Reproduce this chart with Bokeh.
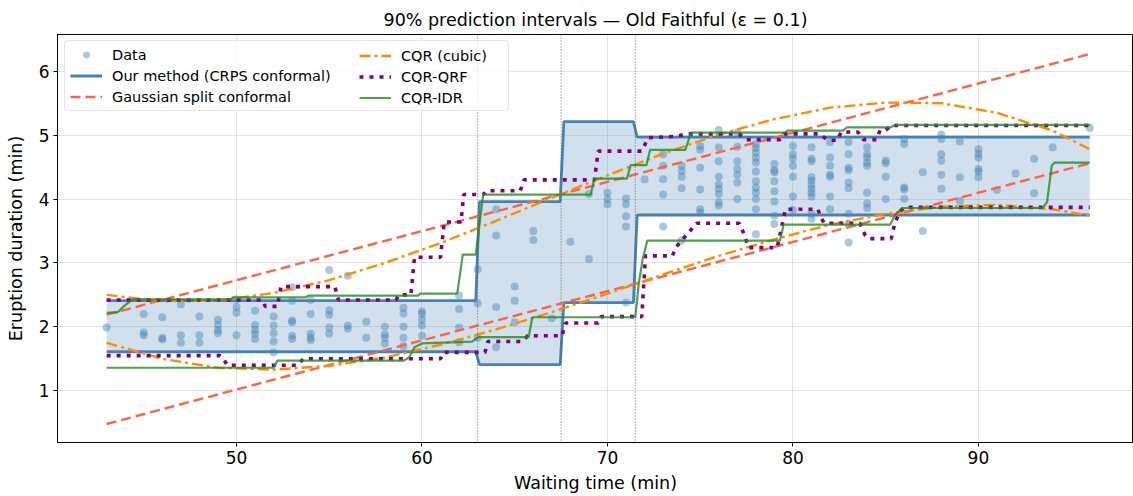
from bokeh.plotting import figure
from bokeh.models import Range1d, FixedTicker, Span, Legend, LegendItem
from bokeh.embed import file_html
from bokeh.resources import INLINE

# ---- Data ----
waiting = [43,
           45, 45, 45, 46, 46, 46, 47, 47, 47, 48, 48, 48,
           49, 49, 49, 49, 50, 50, 50, 50, 51, 51, 51, 51, 51,
           52, 52, 52, 52, 52, 53, 53, 53, 53, 53, 53, 54, 54, 54, 54, 54,
           55, 55, 55, 55, 55, 56, 56, 56, 57, 57, 58, 58, 58, 58,
           59, 59, 59, 59, 59, 60, 60, 60, 60, 60, 62, 62, 62, 62,
           63, 63, 63, 64, 64, 64, 64, 65, 65, 65, 66, 66, 67, 68, 69, 69,
           70, 70, 70, 71, 71, 71, 71, 71, 72, 73, 73, 73, 73, 73,
           74, 74, 74, 74, 74, 75, 75, 75, 75, 75, 75,
           76, 76, 76, 76, 76, 76, 76, 76, 76,
           77, 77, 77, 77, 77, 77, 77,
           78, 78, 78, 78, 78, 78, 78, 78, 78, 78, 78, 78,
           79, 79, 79, 79, 79, 79, 79, 79,
           80, 80, 80, 80, 80, 80, 80,
           81, 81, 81, 81, 81, 81, 81, 81, 81, 81, 81,
           82, 82, 82, 82, 82, 82, 82,
           83, 83, 83, 83, 83, 83, 83, 83, 83,
           84, 84, 84, 84, 84, 84, 84, 84,
           85, 85, 85, 85, 86, 86, 86, 86, 86, 87, 87,
           88, 88, 88, 88, 88, 88, 89, 89, 89,
           90, 90, 90, 90, 90, 90, 91, 92, 93, 93, 94, 96]
eruptions = [1.99,
             2.20, 1.91, 1.87, 2.15, 1.83, 1.80, 2.35, 1.87, 1.75, 2.16, 1.87, 1.75,
             2.11, 2.03, 1.95, 1.90, 2.43, 2.31, 2.22, 1.87, 2.25, 2.03, 1.95, 1.89, 1.81,
             2.16, 2.02, 1.90, 1.77, 1.60, 2.62, 2.41, 2.10, 2.07, 1.86, 1.81, 2.42, 2.20, 1.89, 1.83, 1.79,
             2.89, 2.26, 2.19, 1.99, 1.89, 2.80, 2.02, 1.97, 2.08, 1.83, 2.00, 1.88, 1.83, 1.74,
             2.30, 2.21, 2.00, 1.83, 1.70, 2.24, 2.20, 2.11, 2.02, 1.86, 2.49, 2.28, 1.99, 1.76,
             2.90, 2.37, 1.83, 3.84, 3.43, 2.31, 1.68, 2.63, 2.41, 2.07, 3.50, 3.36, 2.13, 3.33, 4.08, 3.06,
             4.10, 4.00, 3.92, 4.01, 3.92, 3.73, 3.57, 2.38, 4.31, 4.70, 4.52, 4.31, 4.07, 3.57,
             4.52, 4.44, 4.35, 4.17, 3.35, 4.83, 4.77, 4.49, 4.15, 3.84, 3.79,
             5.08, 4.81, 4.59, 4.35, 4.23, 4.16, 4.08, 3.95, 3.90,
             5.04, 4.82, 4.59, 4.47, 4.38, 4.26, 4.00,
             4.86, 4.80, 4.73, 4.65, 4.57, 4.43, 4.28, 4.18, 4.10, 4.00, 3.84, 3.45,
             4.55, 4.45, 4.42, 4.28, 4.12, 3.96, 3.74, 3.61,
             4.83, 4.70, 4.63, 4.52, 4.35, 4.04, 3.83,
             4.81, 4.63, 4.59, 4.34, 4.29, 4.22, 4.16, 4.10, 4.04, 3.77, 3.69,
             4.89, 4.65, 4.52, 4.38, 4.35, 4.04, 3.84,
             4.89, 4.70, 4.49, 4.45, 4.26, 4.17, 3.77, 3.61, 3.32,
             4.81, 4.70, 4.65, 4.57, 4.52, 4.10, 3.93, 3.86,
             4.60, 4.56, 4.35, 4.00, 4.94, 4.86, 4.18, 4.15, 4.00, 4.42, 3.50,
             5.01, 4.94, 4.70, 4.60, 4.38, 4.16, 4.90, 4.34, 3.97,
             4.78, 4.71, 4.65, 4.47, 4.43, 4.34, 4.14, 4.40, 4.63, 4.09, 4.81, 5.11]

boundaries = [63.0, 67.5, 71.5]

crps_x = [43, 62.9, 63.1, 67.45, 67.65, 71.4, 71.6, 96]
crps_lower = [1.61, 1.61, 1.41, 1.41, 2.38, 2.38, 3.75, 3.75]
crps_upper = [2.41, 2.41, 3.96, 3.96, 5.21, 5.21, 4.97, 4.97]

gauss_x = [43, 96]
gauss_lower = [0.48, 4.56]
gauss_upper = [2.19, 6.27]

cubic_x = [43, 46, 49, 52, 55, 58, 61, 64, 67, 70, 73, 76, 79, 82, 85, 88, 91, 94, 96]
cubic_upper = [2.50, 2.40, 2.41, 2.53, 2.73, 3.00, 3.31, 3.66, 4.02, 4.37, 4.71, 5.01,
               5.25, 5.43, 5.51, 5.50, 5.35, 5.07, 4.78]
cubic_lower = [1.75, 1.50, 1.36, 1.33, 1.39, 1.52, 1.72, 1.96, 2.23, 2.52, 2.82, 3.11,
               3.37, 3.60, 3.77, 3.88, 3.91, 3.84, 3.74]

qrf_upper_x = [43, 51.4, 51.55, 52.2, 52.4, 55.3, 55.5, 58.6, 58.75, 59.4, 59.6, 61.0,
               61.2, 62.1, 62.25, 63.3, 63.5, 65.3, 65.5, 69.3, 69.5, 71.85, 72.2, 73.7,
               74.3, 77.1, 77.5, 79.3, 79.5, 81.4, 81.9, 82.4, 82.6, 83.5, 83.8, 84.5,
               84.7, 85.0, 85.3, 96]
qrf_upper_y = [2.42, 2.42, 2.32, 2.32, 2.63, 2.63, 2.42, 2.42, 2.50, 2.50, 3.09, 3.09,
               3.64, 3.64, 4.07, 4.07, 4.13, 4.13, 4.30, 4.30, 4.75, 4.75, 4.96, 4.98,
               5.02, 5.02, 4.93, 4.93, 5.02, 5.02, 4.92, 4.92, 5.05, 5.05, 4.93, 4.93,
               5.08, 5.08, 5.15, 5.15]
qrf_lower_x = [43, 49.1, 49.3, 49.5, 53.3, 53.6, 61.0, 61.15, 63.4, 63.55, 65.4, 65.7,
               67.55, 67.75, 69.5, 69.65, 71.85, 72.05, 73.5, 73.7, 74.3, 74.8, 77.1,
               77.4, 77.6, 79.15, 79.5, 79.6, 81.35, 81.5, 81.7, 83.6, 83.9, 84.1, 85.3,
               85.5, 85.8, 86.0, 96]
qrf_lower_y = [1.55, 1.55, 1.50, 1.40, 1.40, 1.50, 1.50, 1.60, 1.60, 1.77, 1.77, 1.86,
               1.86, 2.06, 2.06, 2.16, 2.16, 3.11, 3.11, 3.25, 3.45, 3.62, 3.62, 3.43,
               3.24, 3.24, 3.71, 3.84, 3.84, 3.71, 3.62, 3.62, 3.43, 3.38, 3.38, 3.63,
               3.82, 3.87, 3.87]

idr_upper_x = [43, 43.6, 44.0, 44.4, 49.7, 49.8, 53.7, 53.9, 59.8, 59.9, 61.9, 62.2,
               62.9, 63.3, 69.1, 69.3, 71.05, 71.25, 72.1, 72.3, 74.2, 74.5, 79.55,
               79.7, 82.7, 82.9, 85.25, 85.5, 96]
idr_upper_y = [2.22, 2.23, 2.34, 2.43, 2.43, 2.46, 2.46, 2.49, 2.49, 2.52, 2.52, 3.13,
               3.13, 4.07, 4.07, 4.32, 4.32, 4.53, 4.53, 4.77, 4.77, 5.04, 5.04, 5.07,
               5.07, 5.12, 5.12, 5.16, 5.16]
idr_lower_x = [43, 52.0, 52.2, 59.0, 59.3, 59.6, 60.0, 62.7, 63.05, 65.75, 65.95, 71.5,
               71.7, 71.9, 72.15, 79.3, 79.5, 85.25, 85.5, 85.9, 93.45, 93.7, 93.95, 94.1, 96]
idr_lower_y = [1.36, 1.36, 1.47, 1.47, 1.52, 1.68, 1.74, 1.77, 1.84, 1.84, 2.15, 2.15,
               2.70, 3.06, 3.35, 3.35, 3.60, 3.60, 3.75, 3.86, 3.86, 3.95, 4.52, 4.57, 4.57]

x_ticks = [50, 60, 70, 80, 90]
y_ticks = [1, 2, 3, 4, 5, 6]

FONT = "DejaVu Sans"

p = figure(width=1133, height=496,
           x_range=Range1d(40.35, 98.36), y_range=Range1d(0.19, 6.575),
           output_backend="svg", toolbar_location=None,
           min_border_left=57, min_border_right=0, min_border_top=34, min_border_bottom=54)

p.title.text = "90% prediction intervals \u2014 Old Faithful (\u03b5 = 0.1)"
p.title.align = "center"
p.title.text_font = FONT
p.title.text_font_size = "17.5px"
p.title.text_font_style = "normal"
p.title.text_color = "black"

p.background_fill_color = "white"
p.border_fill_color = "white"
p.outline_line_color = "black"
p.outline_line_width = 1
p.outline_line_alpha = 1

for ax in (p.xaxis, p.yaxis):
    ax.axis_line_color = "black"
    ax.major_tick_line_color = "black"
    ax.major_tick_out = 4
    ax.major_tick_in = 0
    ax.minor_tick_line_color = None
    ax.major_label_text_font = FONT
    ax.major_label_text_font_size = "17px"
    ax.major_label_text_color = "black"
    ax.axis_label_text_font = FONT
    ax.axis_label_text_font_size = "17.5px"
    ax.axis_label_text_font_style = "normal"
    ax.axis_label_text_color = "black"
    ax.major_label_standoff = 4

p.xaxis.ticker = FixedTicker(ticks=x_ticks)
p.yaxis.ticker = FixedTicker(ticks=y_ticks)
p.xaxis.axis_label = "Waiting time (min)"
p.yaxis.axis_label = "Eruption duration (min)"
p.xaxis.axis_label_standoff = 6
p.yaxis.axis_label_standoff = 10

p.xgrid.ticker = FixedTicker(ticks=x_ticks)
p.ygrid.ticker = FixedTicker(ticks=y_ticks)
for g in (p.xgrid, p.ygrid):
    g.grid_line_color = "#b0b0b0"
    g.grid_line_alpha = 0.35
    g.grid_line_width = 1

# band
p.varea(x=crps_x, y1=crps_lower, y2=crps_upper, fill_color="steelblue", fill_alpha=0.25)

# data points
r_data = p.scatter(x=waiting, y=eruptions, size=8, marker="circle",
                   fill_color="steelblue", fill_alpha=0.45, line_color=None)

# our method
r_crps = p.line(crps_x, crps_upper, line_color="steelblue", line_width=2.8)
p.line(crps_x, crps_lower, line_color="steelblue", line_width=2.8)

# gaussian
r_gauss = p.line(gauss_x, gauss_upper, line_color="tomato", line_width=2.4, line_dash="10 5")
p.line(gauss_x, gauss_lower, line_color="tomato", line_width=2.4, line_dash="10 5")

# cubic
r_cubic = p.line(cubic_x, cubic_upper, line_color="darkorange", line_width=2.4, line_dash="11 4 3 4")
p.line(cubic_x, cubic_lower, line_color="darkorange", line_width=2.4, line_dash="11 4 3 4")

# QRF
r_qrf = p.line(qrf_upper_x, qrf_upper_y, line_color="purple", line_width=3.6, line_dash="4 6")
p.line(qrf_lower_x, qrf_lower_y, line_color="purple", line_width=3.6, line_dash="4 6")

# IDR
r_idr = p.line(idr_upper_x, idr_upper_y, line_color="forestgreen", line_alpha=0.8, line_width=2.2)
p.line(idr_lower_x, idr_lower_y, line_color="forestgreen", line_alpha=0.8, line_width=2.2)

for b in boundaries:
    p.add_layout(Span(location=b, dimension="height", line_color="#555555",
                      line_dash="1 2", line_width=1, line_alpha=0.9))

common = dict(label_text_font=FONT, label_text_font_size="14.5px", label_text_color="black",
              glyph_width=32, glyph_height=17, label_height=17, label_standoff=10,
              spacing=4, padding=5, margin=0)
legA = Legend(items=[LegendItem(label="Data", renderers=[r_data]),
                     LegendItem(label="Our method (CRPS conformal)", renderers=[r_crps]),
                     LegendItem(label="Gaussian split conformal", renderers=[r_gauss])],
              location=(7, 331), border_line_color="#cccccc", border_line_width=1,
              background_fill_color="white", background_fill_alpha=0.8,
              label_width=391, **common)
try:
    legA.border_radius = 4
except Exception:
    pass
legB = Legend(items=[LegendItem(label="CQR (cubic)", renderers=[r_cubic]),
                     LegendItem(label="CQR-QRF", renderers=[r_qrf]),
                     LegendItem(label="CQR-IDR", renderers=[r_idr])],
              location=(297, 331), border_line_alpha=0, background_fill_alpha=0, **common)
p.add_layout(legA, "center")
p.add_layout(legB, "center")

open("out.html", "w").write(file_html(p, INLINE))
